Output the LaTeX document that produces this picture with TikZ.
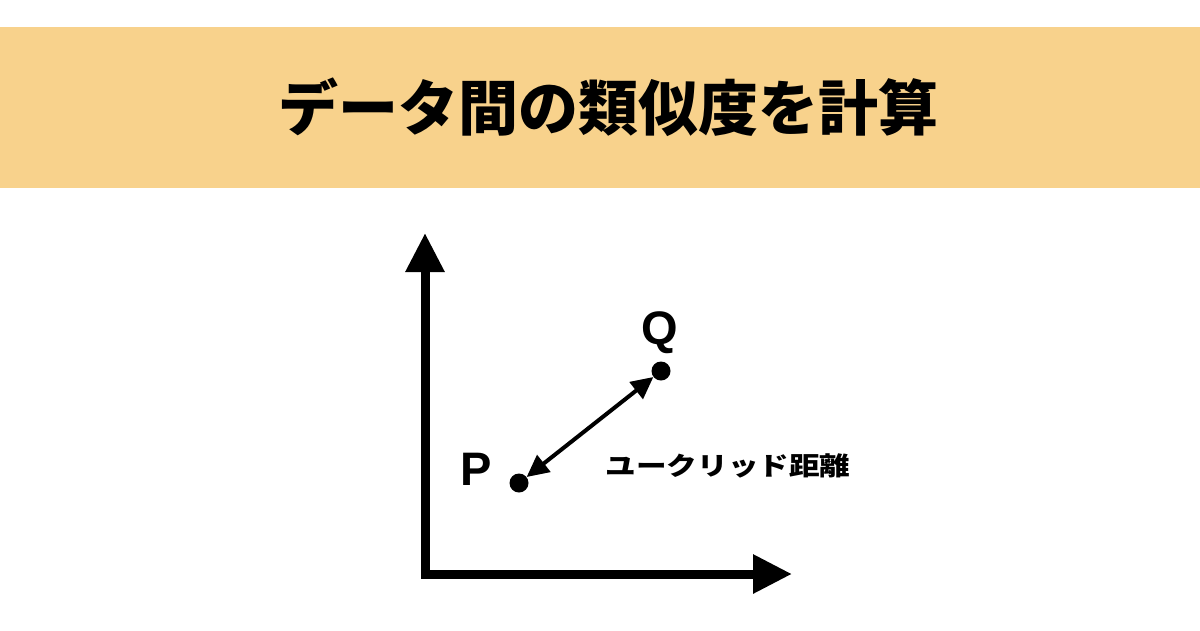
\documentclass[tikz,border=0pt]{standalone}
\usepackage{fontspec}
\setmainfont{Liberation Sans}
\newfontfamily\jpfont{Noto Sans CJK JP}
\usetikzlibrary{arrows.meta}
\definecolor{band}{HTML}{F8D28C}
\begin{document}
\begin{tikzpicture}[x=1pt,y=-1pt,
  axis/.style={line width=9pt,line join=miter},
  dist/.style={line width=4pt,{Triangle[length=22pt,width=21pt]}-{Triangle[length=22pt,width=21pt]}},
  dot/.style={circle,fill=black,inner sep=0pt,minimum size=19pt},
  ptlabel/.style={font=\fontsize{47}{47}\selectfont\bfseries,inner sep=0pt,anchor=base},
  ]
\fill[white] (0,0) rectangle (1200,630);
\useasboundingbox (0,0) rectangle (1200,630);
\fill[band] (0,27) rectangle (1200,187.5);
\node[font=\jpfont\bfseries\fontsize{60}{60}\selectfont,inner sep=0pt] (title) at (608,107) {データ間の類似度を計算};
\coordinate (ytip) at (425,233);
\coordinate (origin) at (425,574);
\coordinate (xtip) at (792,574);
\draw[axis,{Triangle[length=39pt,width=37pt]}-{Triangle[length=39pt,width=37pt]}] (ytip) -- (origin) -- (xtip);
\node[dot] (P) at (519,483) {};
\node[dot] (Q) at (661,371) {};
\draw[dist] (P) -- (Q);
\node[ptlabel] (Plabel) at (476,485) {P};
\node[ptlabel] (Qlabel) at (660,344) {Q};
\node[inner sep=0pt] (dlabel) at (728,465.5) {\scalebox{1.2}[1]{\jpfont\bfseries\fontsize{25.5}{25.5}\selectfont ユークリッド距離}};
\end{tikzpicture}
\end{document}
